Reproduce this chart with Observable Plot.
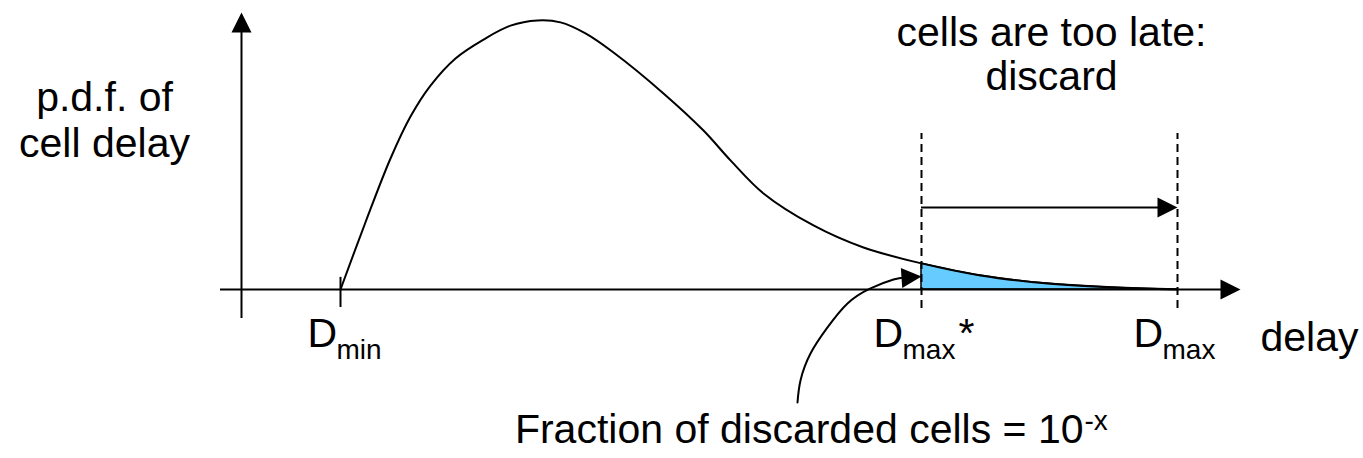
<!DOCTYPE html>
<html>
<head>
<meta charset="utf-8">
<script src="https://cdn.jsdelivr.net/npm/d3@7"></script>
<script src="https://cdn.jsdelivr.net/npm/@observablehq/plot@0.6"></script>
<style>
  html, body { margin: 0; padding: 0; background: #fff; overflow: hidden; }
  #chart svg { display: block; }
</style>
</head>
<body>
<div id="chart"></div>
<script>
// ---- data (abstract units: delay along x, p.d.f. along y; peak = 1) ----
const delay = [0.99, 1.24, 1.49, 1.69, 1.89, 2.14, 2.42, 2.69, 2.96, 3.19, 3.44, 3.72, 4.22, 4.62, 4.89, 5.22, 5.72, 6.22, 6.80, 7.39, 8.06, 8.72, 9.36];
const pdf   = [0, 0.250, 0.487, 0.643, 0.758, 0.859, 0.929, 0.981, 1.000, 0.993, 0.952, 0.881, 0.729, 0.591, 0.480, 0.357, 0.238, 0.156, 0.097, 0.052, 0.022, 0.007, 0];

const dMin = 0.99;
const dMaxStar = 6.80;
const dMax = 9.36;

// curved pointer from the caption to the shaded tail
const pointerX = [5.56, 5.59, 5.69, 5.86, 6.06, 6.29, 6.52, 6.63];
const pointerY = [-0.420, -0.338, -0.238, -0.141, -0.052, 0.004, 0.037, 0.045];

// arrow heads: tip position and direction (degrees, 0 = up)
const headX = [0, 9.99, dMax, dMaxStar];
const headY = [1.030, 0, 0.305, 0.048];
const headRot = [0, 90, 90, 86];

// text labels
const centerText = ["p.d.f. of", "cell delay", "cells are too late:", "discard"];
const centerX = [-1.37, -1.37, 8.10, 8.10];
const centerY = [0.665, 0.494, 0.907, 0.740];

const axisTitle = "delay";
const axisTitleX = [10.19];
const axisTitleY = [-0.227];

const dLabelX = [0.66, 6.32, 8.92];
const dLabelY = [-0.212, -0.212, -0.212];
const dSub = ["min", "max", "max"];
const starX = [7.17];

const captionText = "Fraction of discarded cells = 10";
const captionSup = "-x";
const captionX = [8.42];
const captionY = [-0.572];

// ---- build ----
const curve = delay.map((d, i) => ({delay: d, pdf: pdf[i]}));
const tail = curve.filter(d => d.delay >= dMaxStar);
const pointer = pointerX.map((x, i) => ({x, y: pointerY[i]}));
const heads = headX.map((x, i) => ({x, y: headY[i], r: headRot[i]}));
const centers = centerText.map((t, i) => ({t, x: centerX[i], y: centerY[i]}));
const dLabels = dLabelX.map((x, i) => ({x, y: dLabelY[i], sub: dSub[i]}));

const arrowHead = {
  draw(ctx) {
    ctx.moveTo(0, 0);
    ctx.lineTo(-10, 20);
    ctx.lineTo(10, 20);
    ctx.closePath();
  }
};

const FONT = "'Liberation Sans', Arial, Helvetica, sans-serif";
const BIG = 41, SMALL = 28;

const chart = Plot.plot({
  width: 1363,
  height: 458,
  margin: 0,
  x: {domain: [-2.41, 11.22], axis: null},
  y: {domain: [-0.6283, 1.0743], axis: null},
  style: {fontFamily: FONT, background: "white", color: "black"},
  marks: [
    // shaded tail
    Plot.areaY(tail, {x: "delay", y: "pdf", curve: "catmull-rom", fill: "#66ccff", stroke: "black", strokeWidth: 1.5}),
    // axes
    Plot.ruleX([0], {y1: -0.108, y2: 1.0, stroke: "black", strokeWidth: 2}),
    Plot.ruleY([0], {x1: -0.21, x2: 9.9, stroke: "black", strokeWidth: 2}),
    // Dmin tick
    Plot.ruleX([dMin], {y1: -0.067, y2: 0.045, stroke: "black", strokeWidth: 2}),
    // dashed limits
    Plot.ruleX([dMaxStar, dMax], {y1: -0.071, y2: 0.580, stroke: "black", strokeWidth: 2, strokeDasharray: "8,5"}),
    // discard interval arrow
    Plot.ruleY([0.305], {x1: dMaxStar, x2: 9.2, stroke: "black", strokeWidth: 2}),
    // pdf curve
    Plot.line(curve, {x: "delay", y: "pdf", curve: "catmull-rom", stroke: "black", strokeWidth: 2}),
    // curved pointer
    Plot.line(pointer, {x: "x", y: "y", curve: "natural", stroke: "black", strokeWidth: 2}),
    // arrow heads
    Plot.dot(heads, {x: "x", y: "y", rotate: "r", symbol: arrowHead, fill: "black", stroke: "none"}),
    // labels
    Plot.text(centers, {x: "x", y: "y", text: "t", textAnchor: "middle", lineAnchor: "bottom", fontSize: BIG, fill: "black"}),
    Plot.text(axisTitleX, {x: d => d, y: () => axisTitleY[0], text: () => axisTitle, textAnchor: "start", lineAnchor: "bottom", fontSize: BIG, fill: "black"}),
    Plot.text(dLabels, {x: "x", y: "y", text: () => "D", textAnchor: "start", lineAnchor: "bottom", fontSize: BIG, fill: "black"}),
    Plot.text(dLabels, {x: "x", y: "y", text: "sub", dx: 29, dy: 12, textAnchor: "start", lineAnchor: "bottom", fontSize: SMALL, fill: "black"}),
    Plot.text(starX, {x: d => d, y: () => dLabelY[1], text: () => "*", textAnchor: "start", lineAnchor: "bottom", fontSize: BIG, fill: "black"}),
    Plot.text(captionX, {x: d => d, y: () => captionY[0], text: () => captionText, textAnchor: "end", lineAnchor: "bottom", fontSize: BIG, fill: "black"}),
    Plot.text(captionX, {x: d => d, y: () => captionY[0], text: () => captionSup, dx: 1, dy: -13, textAnchor: "start", lineAnchor: "bottom", fontSize: SMALL, fill: "black"})
  ]
});
document.getElementById("chart").appendChild(chart);
</script>
</body>
</html>
